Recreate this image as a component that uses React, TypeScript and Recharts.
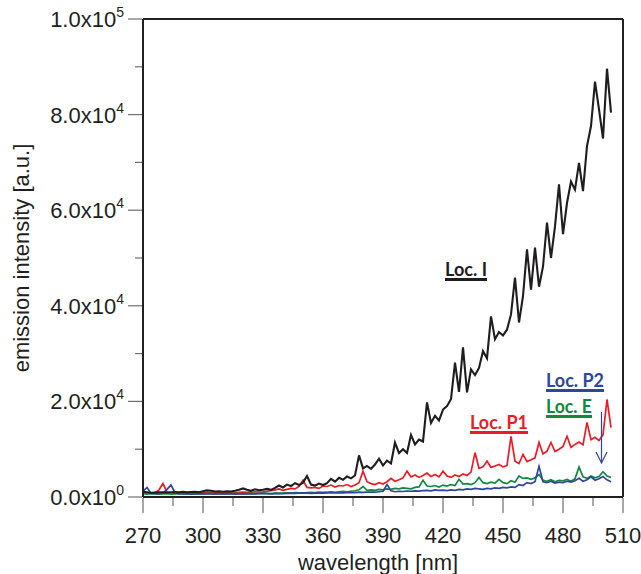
import React from 'react';
import { LineChart, Line, XAxis, YAxis, ReferenceLine } from 'recharts';

const wavelengths = [
  270, 272, 274, 276, 278, 280, 282, 284, 286, 288,
  290, 292, 294, 296, 298, 300, 302, 304, 306, 308,
  310, 312, 314, 316, 318, 320, 322, 324, 326, 328,
  330, 332, 334, 336, 338, 340, 342, 344, 346, 348,
  350, 352, 354, 356, 358, 360, 362, 364, 366, 368,
  370, 372, 374, 376, 378, 380, 382, 384, 386, 388,
  390, 392, 394, 396, 398, 400, 402, 404, 406, 408,
  410, 412, 414, 416, 418, 420, 422, 424, 426, 428,
  430, 432, 434, 436, 438, 440, 442, 444, 446, 448,
  450, 452, 454, 456, 458, 460, 462, 464, 466, 468,
  470, 472, 474, 476, 478, 480, 482, 484, 486, 488,
  490, 492, 494, 496, 498, 500, 502, 504,
];

const locI = [
  1100, 1000, 900, 950, 1000, 1000, 950, 1000, 1050, 1000,
  1100, 1000, 1050, 1100, 1000, 1200, 1400, 1300, 1150, 1200,
  1100, 1200, 1150, 1300, 1500, 1800, 1500, 1300, 1600, 1400,
  1500, 1700, 1500, 1900, 2400, 2000, 2600, 2300, 2900, 2500,
  3000, 4400, 2600, 2400, 2800, 2500, 2900, 3800, 3200, 4000,
  3600, 4300, 3900, 4500, 8700, 6000, 6500, 5900, 6800, 8000,
  6600, 7600, 7000, 11400, 9200, 10000, 9200, 13000, 11000, 12000,
  11600, 19800, 15500, 17000, 16000, 18300, 19000, 20500, 28100, 22000,
  31300, 21900, 26700, 25500, 27000, 30500, 29000, 37800, 33000, 34500,
  33800, 35000, 38200, 45900, 36500, 42000, 51800, 43400, 52200, 44000,
  48200, 57400, 50000, 56600, 65400, 55000, 61500, 66000, 64300, 69900,
  64000, 73400, 77600, 86900, 81100, 75000, 89600, 80400,
];

const locP1 = [
  1000, 900, 850, 900, 1500, 2800, 1000, 900, 850, 900,
  950, 900, 850, 900, 950, 900, 1000, 950, 900, 850,
  900, 950, 900, 850, 950, 1000, 950, 1000, 1100, 1050,
  1100, 1200, 1300, 1500, 1700, 1400, 1600, 1800, 1700, 2200,
  3500, 2000, 1900, 2000, 1800, 2300, 2200, 2500, 2100, 2400,
  2300, 2600, 2200, 2500, 3000, 5400, 3200, 2800, 2600, 3000,
  2700, 3200, 3900, 3300, 3600, 4000, 5400, 4200, 4600, 4100,
  4500, 5000, 4300, 4700, 4200, 5400, 4400, 4100, 4600, 4300,
  4800, 4500, 5200, 9300, 6000, 6300, 7500, 6200, 6500, 6800,
  6300, 6600, 12700, 7500, 7000, 8900, 7400, 7800, 8200, 11400,
  9000, 9600, 11400, 9500, 10000, 10600, 12700, 10400, 11000, 11500,
  10900, 15600, 12000, 12500, 11800, 13000, 20400, 14500,
];

const locE = [
  700, 600, 700, 650, 700, 650, 700, 600, 650, 700,
  650, 700, 650, 600, 700, 650, 700, 750, 700, 650,
  700, 650, 700, 750, 700, 650, 700, 750, 700, 750,
  800, 750, 700, 800, 750, 800, 850, 800, 900, 850,
  800, 900, 950, 900, 1000, 950, 1000, 1100, 1000, 1100,
  1200, 1100, 1200, 1300, 1500, 2200, 1400, 1500, 1400, 1600,
  1500, 1700, 1600, 1800, 1700, 1900, 1800, 1700, 2000, 2100,
  3500, 2300, 2200, 2400, 2100, 2500, 2300, 2600, 2400, 3700,
  2700, 2800, 2600, 3000, 4100, 3000, 2800, 3100, 2900, 3700,
  3000, 2800, 3400, 3100, 4400, 3900, 4000, 3700, 4000, 4700,
  3500, 3300, 3600, 3200, 3500, 3400, 3700, 3300, 3800, 6300,
  4200, 3900, 4400, 4000, 4300, 5300, 4400, 4100,
];

const locP2 = [
  1200, 2000, 800, 700, 650, 800, 1600, 2500, 900, 700,
  650, 700, 600, 650, 700, 650, 700, 650, 600, 700,
  650, 700, 650, 600, 650, 700, 650, 700, 650, 700,
  750, 700, 650, 700, 750, 700, 750, 800, 750, 800,
  850, 800, 750, 800, 850, 800, 850, 900, 850, 900,
  850, 900, 950, 900, 1000, 950, 1000, 1050, 1000, 1100,
  1200, 2600, 1300, 1100, 1200, 1150, 1250, 1200, 1300, 1250,
  1350, 1400, 1300, 1500, 1400, 1450, 1350, 1500, 1400, 1600,
  1500, 1700, 1600, 1800, 1700, 1600, 1800, 1700, 1900, 1800,
  2000, 1900, 2100, 2000, 2600, 2400, 3000, 2800, 3200, 6400,
  3200, 3000, 3300, 2900, 3100, 3000, 3300, 3100, 3400, 3900,
  3300, 3600, 4200, 3500, 3800, 4300, 3600, 3200,
];

const xTicks = [270, 285, 300, 315, 330, 345, 360, 375, 390, 405, 420, 435, 450, 465, 480, 495, 510];
const xMajorStep = 30;
const yTicks = [0, 10000, 20000, 30000, 40000, 50000, 60000, 70000, 80000, 90000, 100000];
const yMajorStep = 20000;
const yTickMantissa = ['0.0', '2.0', '4.0', '6.0', '8.0', '1.0'];
const yTickExponent = ['0', '4', '4', '4', '4', '5'];

const seriesNames = ['Loc. I', 'Loc. P1', 'Loc. E', 'Loc. P2'];

const data = wavelengths.map((wl, i) => ({
  wl,
  I: locI[i],
  P1: locP1[i],
  E: locE[i],
  P2: locP2[i],
}));

const AXIS_FONT = '"Liberation Sans", Arial, Helvetica, sans-serif';
const NOTE_FONT = 'Lato, "Open Sans", sans-serif';
const TEXT = '#231f20';
const TICK = '#6d6e71';
const BLACK = '#1f1d1e';
const RED = '#ed1c24';
const GREEN = '#118a3f';
const BLUE = '#2e469c';

function XTick(props: any) {
  const { x, y, payload } = props;
  const v = payload.value as number;
  const major = (v - 270) % xMajorStep === 0;
  return (
    <g>
      <line x1={x} x2={x} y1={y + 1} y2={y + (major ? 16 : 9)} stroke={TICK} strokeWidth={1.2} />
      {major && (
        <text x={x} y={y + 46} textAnchor="middle" fontFamily={AXIS_FONT} fontSize={22} fill={TEXT}>
          {v}
        </text>
      )}
    </g>
  );
}

function YTick(props: any) {
  const { x, y, payload } = props;
  const v = payload.value as number;
  const major = v % yMajorStep === 0;
  const idx = Math.round(v / yMajorStep);
  return (
    <g>
      <line x1={x - (major ? 15 : 8)} x2={x - 1} y1={y} y2={y} stroke={TICK} strokeWidth={1.2} />
      {major && (
        <text x={x - 19} y={y + 8} textAnchor="end" fontFamily={AXIS_FONT} fontSize={22} fill={TEXT}>
          <tspan>{yTickMantissa[idx]}x10</tspan>
          <tspan dy={-10} fontSize={14}>{yTickExponent[idx]}</tspan>
        </text>
      )}
    </g>
  );
}

function Note({ text, x, y, w, color }: { text: string; x: number; y: number; w: number; color: string }) {
  return (
    <g>
      <text
        x={x}
        y={y}
        fontFamily={NOTE_FONT}
        fontWeight={700}
        fontSize={18.5}
        fill={color}
        textLength={w}
        lengthAdjust="spacingAndGlyphs"
      >
        {text}
      </text>
      <line x1={x} x2={x + w} y1={y + 3.5} y2={y + 3.5} stroke={color} strokeWidth={2.8} />
    </g>
  );
}

export default function App() {
  return (
    <div style={{ position: 'absolute', left: 0, top: 0, width: 641, height: 574, background: '#fff' }}>
      <LineChart width={641} height={574} data={data} margin={{ top: 19, right: 18, bottom: 0, left: 0 }}>
        <XAxis
          dataKey="wl"
          type="number"
          domain={[270, 510]}
          ticks={xTicks}
          interval={0}
          height={77}
          tickSize={0}
          tickMargin={0}
          tickLine={false}
          axisLine={{ stroke: TEXT, strokeWidth: 2 }}
          tick={<XTick />}
        />
        <YAxis
          type="number"
          domain={[0, 100000]}
          ticks={yTicks}
          interval={0}
          width={143}
          tickSize={0}
          tickMargin={0}
          tickLine={false}
          axisLine={{ stroke: TEXT, strokeWidth: 2 }}
          tick={<YTick />}
        />
        <ReferenceLine y={100000} stroke={TEXT} strokeWidth={2} />
        <ReferenceLine x={510} stroke={TEXT} strokeWidth={2} />
        <Line dataKey="P1" name={seriesNames[1]} type="linear" stroke={RED} strokeWidth={1.7} dot={false} isAnimationActive={false} />
        <Line dataKey="E" name={seriesNames[2]} type="linear" stroke={GREEN} strokeWidth={1.7} dot={false} isAnimationActive={false} />
        <Line dataKey="P2" name={seriesNames[3]} type="linear" stroke={BLUE} strokeWidth={1.7} dot={false} isAnimationActive={false} />
        <Line dataKey="I" name={seriesNames[0]} type="linear" stroke={BLACK} strokeWidth={2.1} dot={false} isAnimationActive={false} />
      </LineChart>
      <svg
        width={641}
        height={574}
        style={{ position: 'absolute', left: 0, top: 0, pointerEvents: 'none' }}
      >
        <text
          x={29}
          y={258}
          transform="rotate(-90, 29, 258)"
          textAnchor="middle"
          fontFamily={AXIS_FONT}
          fontSize={22}
          fill={TEXT}
        >
          emission intensity [a.u.]
        </text>
        <text x={378} y={570} textAnchor="middle" fontFamily={AXIS_FONT} fontSize={22} fill={TEXT}>
          wavelength [nm]
        </text>
        <Note text={seriesNames[0]} x={445} y={276} w={42} color={BLACK} />
        <Note text={seriesNames[1]} x={470} y={429} w={58} color={RED} />
        <Note text={seriesNames[3]} x={546} y={387} w={58} color={BLUE} />
        <Note text={seriesNames[2]} x={546} y={413} w={46} color={GREEN} />
        <line x1={601.5} x2={601.5} y1={412} y2={463} stroke={BLUE} strokeWidth={1.2} />
        <polyline points="596,452 601.5,463 607,452" fill="none" stroke={BLUE} strokeWidth={1.2} />
      </svg>
    </div>
  );
}
